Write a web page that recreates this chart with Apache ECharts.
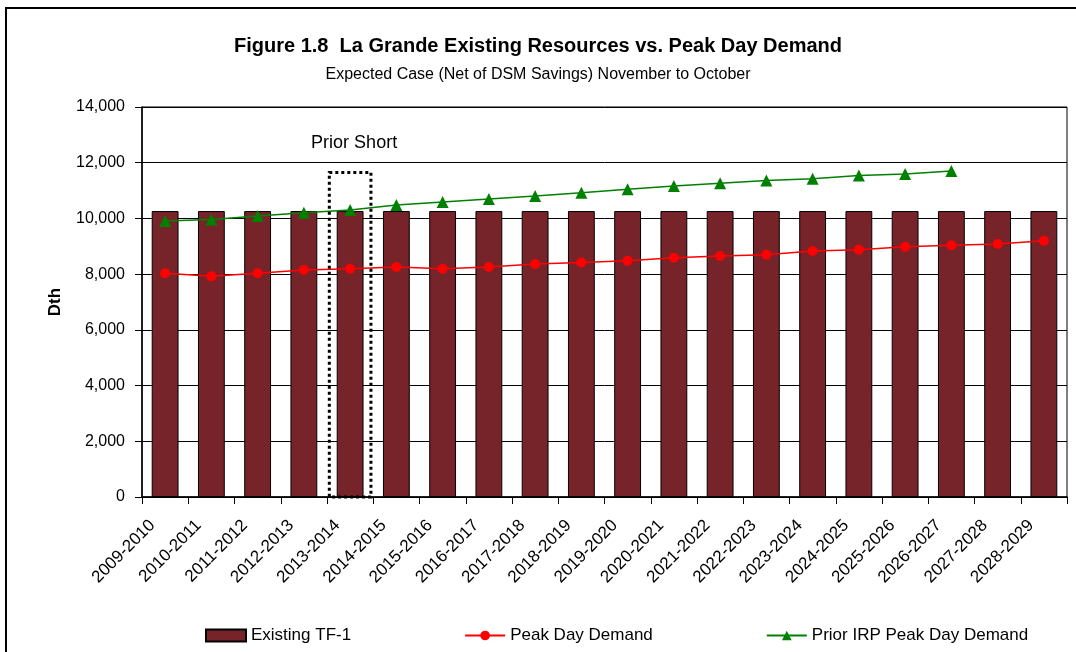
<!DOCTYPE html>
<html>
<head>
<meta charset="utf-8">
<script src="https://cdn.jsdelivr.net/npm/echarts@6/dist/echarts.min.js"></script>
<style>
  html, body { margin: 0; padding: 0; background: #fff; }
  #chart { width: 1076px; height: 652px; }
</style>
</head>
<body>
<div id="chart"></div>
<script>
const categories = ['2009-2010', '2010-2011', '2011-2012', '2012-2013', '2013-2014', '2014-2015',
  '2015-2016', '2016-2017', '2017-2018', '2018-2019', '2019-2020', '2020-2021', '2021-2022',
  '2022-2023', '2023-2024', '2024-2025', '2025-2026', '2026-2027', '2027-2028', '2028-2029']
const existingTF1 = [10265, 10265, 10265, 10265, 10265, 10265, 10265, 10265, 10265, 10265,
  10265, 10265, 10265, 10265, 10265, 10265, 10265, 10265, 10265, 10265]
const peakDayDemand = [8030, 7920, 8030, 8150, 8195, 8255, 8195, 8255, 8365, 8420,
  8480, 8590, 8650, 8700, 8830, 8875, 8985, 9035, 9080, 9200]
const priorIrpDemand = [9905, 9965, 10085, 10205, 10300, 10480, 10590, 10695, 10805, 10920,
  11045, 11165, 11260, 11365, 11425, 11545, 11595, 11700, null, null]
const priorShort = [['2013-2014', 11650]]
const yTicks = [0, 2000, 4000, 6000, 8000, 10000, 12000, 14000]

const FONT = "'Liberation Sans', Arial, sans-serif"

const chart = echarts.init(document.getElementById('chart'))
chart.setOption({
  animation: false,
  textStyle: { fontFamily: FONT },
  graphic: [{
    type: 'rect',
    shape: { x: 6, y: 8, width: 1200, height: 800 },
    style: { fill: 'none', stroke: '#000', lineWidth: 2 },
    z: -10
  }],
  title: {
    left: 'center',
    top: 31,
    itemGap: 11,
    text: 'Figure 1.8  La Grande Existing Resources vs. Peak Day Demand',
    textStyle: { fontFamily: FONT, fontWeight: 'bold', fontSize: 20, color: '#000' },
    subtext: 'Expected Case (Net of DSM Savings) November to October',
    subtextStyle: { fontFamily: FONT, fontSize: 16, color: '#000' }
  },
  grid: {
    left: 142,
    right: 9,
    top: 107,
    bottom: 155,
    show: true,
    borderColor: '#000',
    borderWidth: 1
  },
  // legend
  legend: {
    left: 200,
    top: 622,
    width: 900,
    itemWidth: 40,
    itemHeight: 12,
    itemGap: 113,
    textStyle: { fontFamily: FONT, fontSize: 17, color: '#000' },
    data: [
      { name: 'Existing TF-1', icon: 'rect' },
      'Peak Day Demand',
      'Prior IRP Peak Day Demand'
    ]
  },
  xAxis: {
    type: 'category',
    data: categories,
    axisLine: { lineStyle: { color: '#000', width: 1.5 } },
    axisTick: { show: true, length: 7, interval: 0, lineStyle: { color: '#000' } },
    axisLabel: {
      rotate: 45, interval: 0, margin: 13, padding: [0, 18, 0, 0],
      fontSize: 17, color: '#000', fontFamily: FONT
    }
  },
  yAxis: {
    type: 'value',
    min: yTicks[0],
    max: yTicks[yTicks.length - 1],
    interval: 2000,
    name: 'Dth',
    nameLocation: 'middle',
    nameGap: 78,
    nameTextStyle: { fontFamily: FONT, fontWeight: 'bold', fontSize: 17, color: '#000' },
    axisLine: { show: true, lineStyle: { color: '#000', width: 1.5 } },
    axisTick: { show: true, length: 7, lineStyle: { color: '#000' } },
    axisLabel: {
      margin: 17, fontSize: 16, color: '#000', fontFamily: FONT,
      formatter: v => v.toLocaleString('en-US')
    },
    splitLine: { lineStyle: { color: '#000', width: 1 } }
  },
  series: [
    {
      name: 'Existing TF-1',
      type: 'bar',
      barWidth: '58%',
      data: existingTF1,
      itemStyle: { color: '#77232A', borderColor: '#000', borderWidth: 1 },
      z: 2
    },
    {
      name: 'Peak Day Demand',
      type: 'line',
      data: peakDayDemand,
      symbol: 'circle',
      symbolSize: 10,
      lineStyle: { color: '#FF0000', width: 1.5 },
      itemStyle: { color: '#FF0000' },
      z: 4
    },
    {
      name: 'Prior IRP Peak Day Demand',
      type: 'line',
      data: priorIrpDemand,
      symbol: 'triangle',
      symbolSize: 12,
      lineStyle: { color: '#008000', width: 1.5 },
      itemStyle: { color: '#008000' },
      z: 4
    },
    {
      name: 'Prior Short',
      type: 'custom',
      data: priorShort,
      z: 5,
      renderItem: function (params, api) {
        const top = api.coord([api.value(0), api.value(1)])
        const base = api.coord([api.value(0), 0])
        const w = api.size([1, 0])[0] * 0.9
        return {
          type: 'group',
          children: [
            {
              type: 'rect',
              shape: { x: top[0] - w / 2, y: top[1], width: w, height: base[1] - top[1] },
              style: { fill: 'none', stroke: '#000', lineWidth: 3, lineDash: [3, 3] }
            },
            {
              type: 'text',
              style: {
                text: 'Prior Short',
                x: top[0] + 4,
                y: top[1] - 29,
                align: 'center',
                verticalAlign: 'middle',
                font: '18px ' + FONT,
                fill: '#000'
              }
            }
          ]
        }
      }
    }
  ]
})
</script>
</body>
</html>
